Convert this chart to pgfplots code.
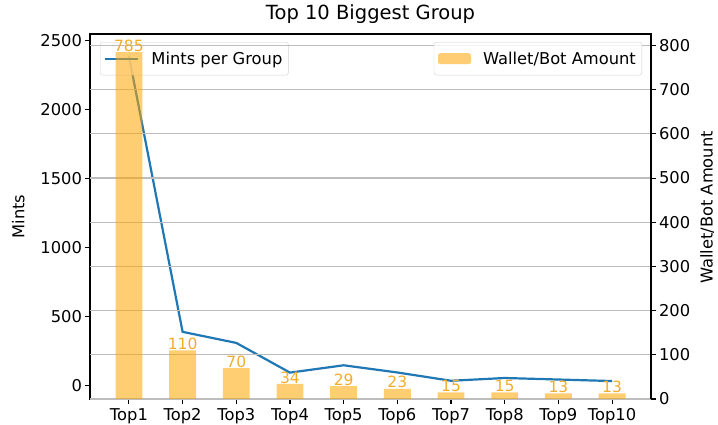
\documentclass[border=0pt]{standalone}
\usepackage{fontspec}
\setmainfont{DejaVu Sans}
\usepackage{pgfplots}
\pgfplotsset{compat=1.18}
\definecolor{mblue}{HTML}{1F77B4}
\definecolor{morange}{HTML}{FFA500}
\definecolor{lblc}{HTML}{F2AC2C}
\definecolor{gridc}{HTML}{BDBDBD}
\begin{document}
\begin{tikzpicture}
\path[use as bounding box] (-90bp,-26bp) rectangle (628bp,399bp);
\pgfplotsset{
  common/.style={
    scale only axis, width=561bp, height=365bp,
    at={(0,0)}, anchor=south west,
    xmin=-0.725, xmax=9.725,
    tick align=outside, major tick length=4.5bp,
    every tick/.style={black, line width=1.1bp},
    axis line style={black, line width=1.2bp},
    /pgf/number format/assume math mode=true,
    /pgf/number format/1000 sep={},
    ticklabel style={font=\fontsize{16.3bp}{19bp}\selectfont},
    label style={font=\fontsize{16.3bp}{19bp}\selectfont},
    legend style={font=\fontsize{16.3bp}{19bp}\selectfont, draw=gray!35, rounded corners=2.5bp,
      fill=white, fill opacity=0.8, text opacity=1, inner xsep=4bp, inner ysep=7.5bp,
      cells={anchor=west}},
  }
}
\begin{axis}[common,
  ymin=-97, ymax=2545,
  ytick={0,500,1000,1500,2000,2500},
  xtick={0,1,2,3,4,5,6,7,8,9},
  xticklabels={Top1,Top2,Top3,Top4,Top5,Top6,Top7,Top8,Top9,Top10},
  xticklabel style={yshift=-1.5bp},
  xtick pos=bottom, ytick pos=left,
  ylabel={Mints},
  ylabel style={at={(axis description cs:-0.128,0.5)}, anchor=center},
  title={Top 10 Biggest Group},
  title style={at={(axis description cs:0.5,1)}, anchor=base, yshift=9bp, inner sep=0pt,
    font=\fontsize{19.5bp}{23bp}\selectfont},
  legend style={at={(axis description cs:0.018,0.978)}, anchor=north west},
]
\addplot[mblue, line width=2.2bp,
  legend image code/.code={\draw[mblue, line width=2.2bp] (0bp,0bp) -- (33bp,0bp); \path (43bp,0bp);}]
  coordinates {(0,2385)(1,389)(2,309)(3,94)(4,147)(5,95)(6,35)(7,55)(8,44)(9,33)};
\addlegendentry{Mints per Group}
\end{axis}
\begin{axis}[common,
  axis y line*=right, axis x line=none,
  ymin=0, ymax=826,
  ytick={0,100,200,300,400,500,600,700,800},
  ymajorgrids, grid style={gridc, line width=1.2bp},
  ylabel={Wallet/Bot Amount},
  ylabel style={at={(axis description cs:1.1,0.525)}, anchor=center},
  legend style={at={(axis description cs:0.984,0.978)}, anchor=north east},
]
\addplot[ybar, bar width=0.5, draw=none, fill=morange, fill opacity=0.55,
  nodes near coords,
  every node near coord/.style={anchor=south, inner sep=0pt, yshift=0.5bp, text=lblc, text opacity=1,
    font=\fontsize{15.5bp}{18bp}\selectfont},
  legend image code/.code={\fill[morange, fill opacity=0.55] (0bp,-5.5bp) rectangle (33bp,5.5bp); \path (43bp,0bp);}]
  coordinates {(0,785)(1,110)(2,70)(3,34)(4,29)(5,23)(6,15)(7,15)(8,13)(9,13)};
\addlegendentry{Wallet/Bot Amount}
\end{axis}
\end{tikzpicture}
\end{document}
